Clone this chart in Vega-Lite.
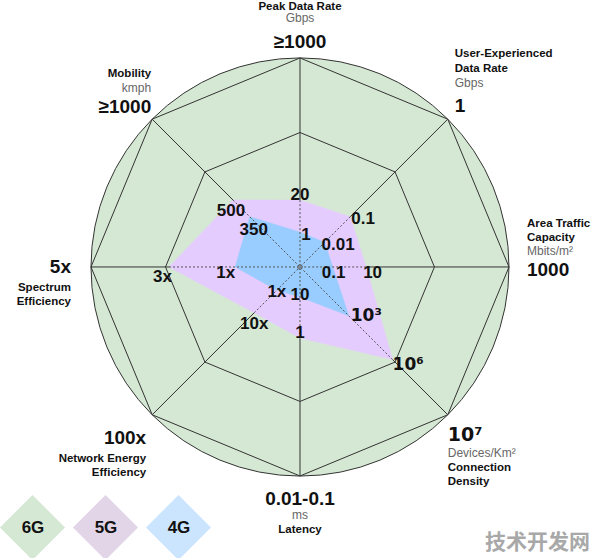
{
  "$schema": "https://vega.github.io/schema/vega-lite/v6.json",
  "width": 596,
  "height": 558,
  "autosize": "none",
  "padding": 0,
  "background": "white",
  "config": {"view": {"stroke": null}, "font": "Liberation Sans"},
  "title": {
    "text": "技术开发网",
    "orient": "bottom",
    "anchor": "end",
    "frame": "group",
    "offset": -28,
    "dx": -6,
    "font": "Noto Sans CJK SC",
    "fontSize": 21,
    "fontWeight": "bold",
    "color": "#a8a8a8"
  },
  "datasets": {
    "values": [
      {"gen": "6G", "i": 0, "level": 3, "label": "≥1000"},
      {"gen": "6G", "i": 1, "level": 3, "label": "1"},
      {"gen": "6G", "i": 2, "level": 3, "label": "1000"},
      {"gen": "6G", "i": 3, "level": 3, "label": "10⁷"},
      {"gen": "6G", "i": 4, "level": 3, "label": "0.01-0.1"},
      {"gen": "6G", "i": 5, "level": 3, "label": "100x"},
      {"gen": "6G", "i": 6, "level": 3, "label": "5x"},
      {"gen": "6G", "i": 7, "level": 3, "label": "≥1000"},
      {"gen": "5G", "i": 0, "level": 0.96, "label": "20"},
      {"gen": "5G", "i": 1, "level": 1.02, "label": "0.1"},
      {"gen": "5G", "i": 2, "level": 0.95, "label": "10"},
      {"gen": "5G", "i": 3, "level": 1.88, "label": "10⁶"},
      {"gen": "5G", "i": 4, "level": 1.02, "label": "1"},
      {"gen": "5G", "i": 5, "level": 0.93, "label": "10x"},
      {"gen": "5G", "i": 6, "level": 1.88, "label": "3x"},
      {"gen": "5G", "i": 7, "level": 1.36, "label": "500"},
      {"gen": "4G", "i": 0, "level": 0.5, "label": "1"},
      {"gen": "4G", "i": 1, "level": 0.5, "label": "0.01"},
      {"gen": "4G", "i": 2, "level": 0.47, "label": "0.1"},
      {"gen": "4G", "i": 3, "level": 0.99, "label": "10³"},
      {"gen": "4G", "i": 4, "level": 0.43, "label": "10"},
      {"gen": "4G", "i": 5, "level": 0.47, "label": "1x"},
      {"gen": "4G", "i": 6, "level": 0.93, "label": "1x"},
      {"gen": "4G", "i": 7, "level": 1.02, "label": "350"}
    ],
    "axes": [
      {"i": 0, "title": "Peak Data Rate", "unit": "Gbps"},
      {"i": 1, "title": "User-Experienced\nData Rate", "unit": "Gbps"},
      {"i": 2, "title": "Area Traffic\nCapacity", "unit": "Mbits/m²"},
      {"i": 3, "title": "Connection\nDensity", "unit": "Devices/Km²"},
      {"i": 4, "title": "Latency", "unit": "ms"},
      {"i": 5, "title": "Network Energy\nEfficiency", "unit": ""},
      {"i": 6, "title": "Spectrum\nEfficiency", "unit": ""},
      {"i": 7, "title": "Mobility", "unit": "kmph"}
    ]
  },
  "data": {"name": "values"},
  "transform": [
    {"calculate": "datum.level * sin(datum.i * PI / 4)", "as": "x"},
    {"calculate": "datum.level * cos(datum.i * PI / 4)", "as": "y"}
  ],
  "encoding": {
    "x": {"field": "x", "type": "quantitative", "scale": {"domain": [-4.306, 4.249], "nice": false, "zero": false}, "axis": null},
    "y": {"field": "y", "type": "quantitative", "scale": {"domain": [-4.177, 3.832], "nice": false, "zero": false}, "axis": null}
  },
  "layer": [
    {
      "transform": [{"filter": "datum.gen == '6G' && datum.i == 0"}],
      "mark": {"type": "point", "shape": "circle", "filled": true, "size": 174724, "stroke": "#333333", "strokeWidth": 1, "opacity": 1},
      "encoding": {
        "x": {"datum": 0, "type": "quantitative", "scale": {"domain": [-4.306, 4.249], "nice": false, "zero": false}, "axis": null},
        "y": {"datum": 0, "type": "quantitative", "scale": {"domain": [-4.177, 3.832], "nice": false, "zero": false}, "axis": null},
        "fill": {
          "field": "gen",
          "type": "nominal",
          "scale": {"domain": ["6G", "5G", "4G"], "range": ["#d5e8d4", "#e1d5e7", "#cce5ff"]},
          "legend": {
            "title": null,
            "orient": "none",
            "legendX": 0,
            "legendY": 495,
            "direction": "horizontal",
            "padding": 0,
            "symbolType": "diamond",
            "symbolSize": 4225,
            "symbolStrokeWidth": 0,
            "symbolStrokeColor": "transparent",
            "symbolOpacity": 1,
            "labelFont": "Liberation Sans",
            "labelFontSize": 17,
            "labelFontWeight": "bold",
            "labelColor": "#111111",
            "labelAlign": "center",
            "labelOffset": -32,
            "columnPadding": 8
          }
        }
      }
    },
    {
      "transform": [{"filter": "datum.gen == '6G'"}],
      "mark": {"type": "rule", "color": "#333333", "strokeWidth": 1},
      "encoding": {"x2": {"datum": 0}, "y2": {"datum": 0}}
    },
    {
      "transform": [{"filter": "datum.gen == '6G'"}],
      "mark": {"type": "line", "interpolate": "linear-closed", "color": "#333333", "strokeWidth": 1},
      "encoding": {"order": {"field": "i", "type": "quantitative"}}
    },
    {
      "transform": [
        {"filter": "datum.gen == '6G'"},
        {"calculate": "1.93 * sin(datum.i * PI / 4)", "as": "x"},
        {"calculate": "1.93 * cos(datum.i * PI / 4)", "as": "y"}
      ],
      "mark": {"type": "line", "interpolate": "linear-closed", "color": "#333333", "strokeWidth": 1},
      "encoding": {"order": {"field": "i", "type": "quantitative"}}
    },
    {
      "transform": [{"filter": "datum.gen == '5G'"}],
      "mark": {"type": "line", "interpolate": "linear-closed", "fill": "#e5ccff", "stroke": "#e5ccff", "strokeWidth": 0.5},
      "encoding": {"order": {"field": "i", "type": "quantitative"}}
    },
    {
      "transform": [{"filter": "datum.gen == '4G'"}],
      "mark": {"type": "line", "interpolate": "linear-closed", "fill": "#99ccff", "stroke": "#99ccff", "strokeWidth": 0.5},
      "encoding": {"order": {"field": "i", "type": "quantitative"}}
    },
    {
      "transform": [{"filter": "datum.gen == '5G'"}],
      "mark": {"type": "rule", "color": "#555555", "strokeWidth": 1, "strokeDash": [2, 2]},
      "encoding": {"x2": {"datum": 0}, "y2": {"datum": 0}}
    },
    {
      "transform": [{"filter": "datum.gen == '6G' && datum.i == 0"}],
      "mark": {"type": "point", "shape": "circle", "filled": false, "size": 22, "stroke": "#666666", "strokeWidth": 1, "opacity": 1},
      "encoding": {
        "x": {"datum": 0, "type": "quantitative"},
        "y": {"datum": 0, "type": "quantitative"}
      }
    },
    {
      "transform": [{"filter": "datum.gen != '6G'"}],
      "mark": {
        "type": "text",
        "fontSize": 17,
        "fontWeight": "bold",
        "color": "#111111",
        "baseline": "middle",
        "font": {"expr": "(datum.label == '10³' || datum.label == '10⁶') ? 'DejaVu Sans' : 'Liberation Sans'"},
        "align": {"expr": "['center','left','left','left','center','center','right','center'][datum.i]"},
        "dx": {"expr": "datum.gen == '5G' ? [0,1,-3,0,0,0,3,-2][datum.i] : [6,-3,-11,2,0,0,0,4][datum.i]"},
        "dy": {"expr": "datum.gen == '5G' ? [-5,2,6,5,-5,11,10,11][datum.i] : [3,3,6,0,-2,2,6,13][datum.i]"}
      },
      "encoding": {"text": {"field": "label", "type": "nominal"}}
    },
    {
      "transform": [{"filter": "datum.gen == '6G'"}],
      "mark": {
        "type": "text",
        "fontSize": 19,
        "fontWeight": "bold",
        "color": "#111111",
        "baseline": "middle",
        "font": {"expr": "datum.label == '10⁷' ? 'DejaVu Sans' : 'Liberation Sans'"},
        "align": {"expr": "['center','left','left','left','center','right','right','right'][datum.i]"},
        "dx": {"expr": "[0,7,18,0,0,-6,-20,-1][datum.i]"},
        "dy": {"expr": "[-16,-13,3,20,23,23,0,-12][datum.i]"}
      },
      "encoding": {"text": {"field": "label", "type": "nominal"}}
    },
    {
      "transform": [
        {"filter": "datum.gen == '6G'"},
        {"lookup": "i", "from": {"data": {"name": "axes"}, "key": "i", "fields": ["title", "unit"]}}
      ],
      "mark": {
        "type": "text",
        "fontSize": 11.5,
        "fontWeight": "bold",
        "color": "#111111",
        "baseline": "top",
        "lineBreak": "\n",
        "lineHeight": 14.5,
        "align": {"expr": "['center','left','left','left','center','right','right','right'][datum.i]"},
        "dx": {"expr": "[0,7,18,0,0,-6,-20,-1][datum.i]"},
        "dy": {"expr": "[-57,-71,-49,47,48,38,15,-51][datum.i]"}
      },
      "encoding": {"text": {"field": "title", "type": "nominal"}}
    },
    {
      "transform": [
        {"filter": "datum.gen == '6G'"},
        {"lookup": "i", "from": {"data": {"name": "axes"}, "key": "i", "fields": ["title", "unit"]}},
        {"filter": "datum.unit != ''"}
      ],
      "mark": {
        "type": "text",
        "fontSize": 12,
        "color": "#666666",
        "baseline": "middle",
        "align": {"expr": "['center','left','left','left','center','right','right','right'][datum.i]"},
        "dx": {"expr": "[0,7,18,0,0,-6,-20,-1][datum.i]"},
        "dy": {"expr": "[-40,-36,-16,38,39,0,0,-31][datum.i]"}
      },
      "encoding": {"text": {"field": "unit", "type": "nominal"}}
    }
  ]
}
